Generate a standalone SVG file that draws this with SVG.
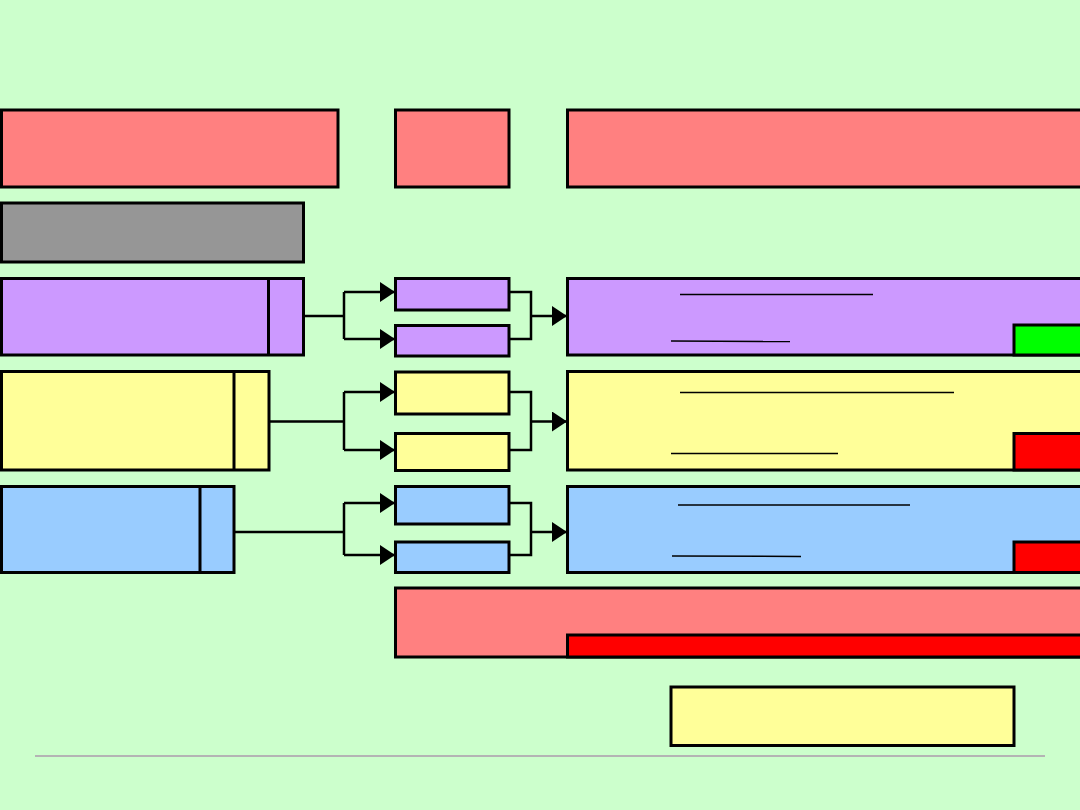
<svg xmlns="http://www.w3.org/2000/svg" width="1080" height="810" viewBox="0 0 1080 810">
<defs>
<style>
.b{stroke:#000;stroke-width:3}
.r{fill:#FF8080}.g{fill:#969696}.p{fill:#CC99FF}.y{fill:#FFFF99}.u{fill:#99CCFF}.gr{fill:#00FF00}.rd{fill:#FF0000}
.c{fill:none;stroke:#000;stroke-width:2.5}
.t{stroke:#000;stroke-width:1.5}
</style>
<marker id="ah" markerWidth="16" markerHeight="20" refX="15" refY="10" orient="auto" markerUnits="userSpaceOnUse">
<path d="M0,0 L15,10 L0,20 Z" fill="#000"/>
</marker>
</defs>
<rect width="1080" height="810" fill="#CCFFCC"/>
<g id="top1"><rect class="b r" x="1.5" y="110" width="336.5" height="77"/></g>
<g id="top2"><rect class="b r" x="395.5" y="110" width="113.5" height="77"/></g>
<g id="top3"><rect class="b r" x="567.5" y="110" width="520" height="77"/></g>
<g id="gray"><rect class="b g" x="1.5" y="203" width="302" height="59"/></g>
<g id="leftP"><rect class="b p" x="1.5" y="278.5" width="302" height="76.5"/><line class="b" x1="268.5" y1="278.5" x2="268.5" y2="355"/></g>
<g id="leftY"><rect class="b y" x="1.5" y="371.5" width="267.5" height="98.5"/><line class="b" x1="234" y1="371.5" x2="234" y2="470"/></g>
<g id="leftU"><rect class="b u" x="1.5" y="486.5" width="232.5" height="86"/><line class="b" x1="200" y1="486.5" x2="200" y2="572.5"/></g>
<g id="midP1"><rect class="b p" x="395.5" y="278.5" width="113.5" height="31.5"/></g>
<g id="midP2"><rect class="b p" x="395.5" y="325.5" width="113.5" height="30.5"/></g>
<g id="midY1"><rect class="b y" x="395.5" y="372" width="113.5" height="42"/></g>
<g id="midY2"><rect class="b y" x="395.5" y="433.5" width="113.5" height="37"/></g>
<g id="midU1"><rect class="b u" x="395.5" y="486.5" width="113.5" height="37.5"/></g>
<g id="midU2"><rect class="b u" x="395.5" y="542" width="113.5" height="30.5"/></g>
<g id="rightP"><rect class="b p" x="567.5" y="278.5" width="520" height="76.5"/>
<line class="t" x1="680" y1="294.5" x2="873" y2="294.5"/><line class="t" x1="671" y1="341" x2="790" y2="341.5"/>
<rect class="b gr" x="1014" y="325" width="80" height="30"/></g>
<g id="rightY"><rect class="b y" x="567.5" y="371.5" width="520" height="98.5"/>
<line class="t" x1="680" y1="392.5" x2="954" y2="392.5"/><line class="t" x1="671" y1="453.5" x2="838" y2="453.5"/>
<rect class="b rd" x="1014" y="433.5" width="80" height="36.5"/></g>
<g id="rightU"><rect class="b u" x="567.5" y="486.5" width="520" height="86"/>
<line class="t" x1="678" y1="505" x2="910" y2="505"/><line class="t" x1="672" y1="556" x2="801" y2="556.5"/>
<rect class="b rd" x="1014" y="542" width="80" height="30.5"/></g>
<g id="bottomRed"><rect class="b r" x="395.5" y="588" width="692" height="69"/>
<rect class="b rd" x="567.5" y="635" width="520" height="22"/></g>
<g id="bottomYellow"><rect class="b y" x="671" y="687" width="343" height="58.5"/></g>
<line x1="35" y1="756" x2="1045" y2="756" stroke="#B4B4B4" stroke-width="2"/>
<g id="connectors">
<path class="c" d="M304,316 H344 M344,292 V339"/>
<path class="c" d="M344,292 H395" marker-end="url(#ah)"/>
<path class="c" d="M344,339 H395" marker-end="url(#ah)"/>
<path class="c" d="M509,292 H531 V339 H509"/>
<path class="c" d="M531,316 H567" marker-end="url(#ah)"/>
<path class="c" d="M269,421.5 H344 M344,392 V450"/>
<path class="c" d="M344,392 H395" marker-end="url(#ah)"/>
<path class="c" d="M344,450 H395" marker-end="url(#ah)"/>
<path class="c" d="M509,392 H531 V450 H509"/>
<path class="c" d="M531,421.5 H567" marker-end="url(#ah)"/>
<path class="c" d="M234,532 H344 M344,503 V555"/>
<path class="c" d="M344,503 H395" marker-end="url(#ah)"/>
<path class="c" d="M344,555 H395" marker-end="url(#ah)"/>
<path class="c" d="M509,503 H531 V555 H509"/>
<path class="c" d="M531,532 H567" marker-end="url(#ah)"/>
</g>
</svg>
